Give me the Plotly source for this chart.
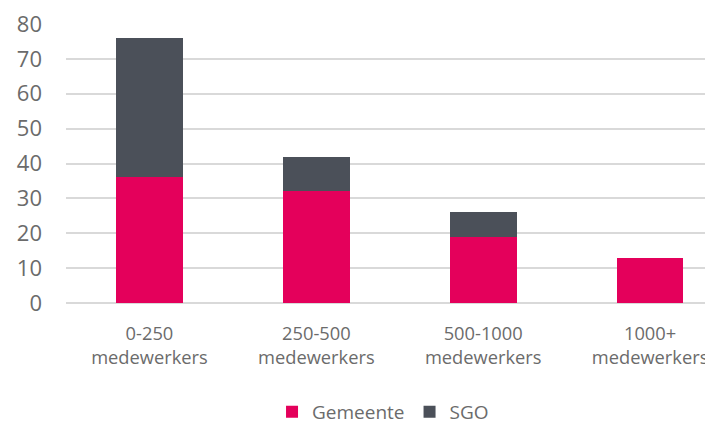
import plotly.graph_objects as go

categories = ["0-250<br>medewerkers", "250-500<br>medewerkers", "500-1000<br>medewerkers", "1000+<br>medewerkers"]
gemeente = [36, 32, 19, 13]
sgo = [40, 10, 7, 0]
y_ticks = [0, 10, 20, 30, 40, 50, 60, 70, 80]

font_fam = "Open Sans"
txt_col = "#6b6b6b"

fig = go.Figure()
fig.add_trace(go.Bar(x=categories, y=gemeente, name="Gemeente", marker=dict(color="#E4005B", line=dict(width=0))))
fig.add_trace(go.Bar(x=categories, y=sgo, name="SGO", marker=dict(color="#4B5059", line=dict(width=0))))

fig.update_layout(
    barmode="stack",
    bargap=0.6,
    width=705, height=416,
    margin=dict(l=57.5, r=0, t=16, b=121, autoexpand=False),
    plot_bgcolor="white", paper_bgcolor="white",
    font=dict(family=font_fam, size=20, color=txt_col),
    showlegend=True,
    legend=dict(orientation="h", x=0.49, xanchor="center", y=-0.39, yanchor="middle",
                font=dict(size=19, color=txt_col), itemwidth=30, traceorder="normal"),
)
fig.update_xaxes(range=[-0.5, 3.377], showgrid=False, showline=False, ticks="", ticklabelstandoff=18,
                 ticklabeloverflow="allow", automargin=False, tickfont=dict(size=18.3, color=txt_col))
fig.update_yaxes(range=[0, 80], tickvals=y_ticks, showgrid=True, gridcolor="#d9d9d9", gridwidth=1.5,
                 zeroline=True, zerolinecolor="#d9d9d9", zerolinewidth=1.5, showline=False,
                 ticklabeloverflow="allow", automargin=False, ticks="", ticklabelstandoff=23,
                 tickfont=dict(size=22, color=txt_col))

fig.write_html("out.html")
